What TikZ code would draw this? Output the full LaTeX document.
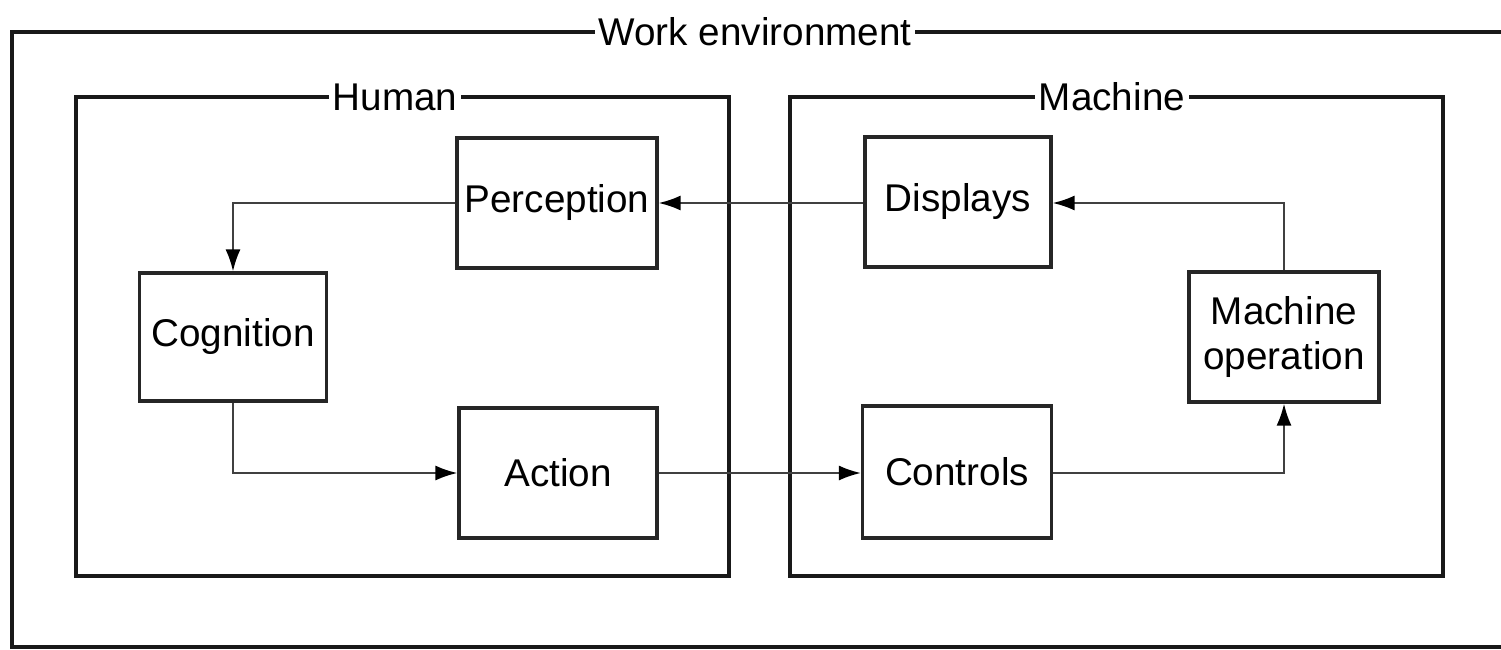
\documentclass[tikz,border=0pt]{standalone}
\usepackage{fontspec}
\setmainfont{Liberation Sans}
\usetikzlibrary{arrows.meta,positioning}

\begin{document}
\begin{tikzpicture}[x=0.1mm, y=-0.1mm, >={Latex[length=2.2mm,width=1.5mm,color=black]},
    block/.style={draw=black!85, line width=0.9pt, align=center, minimum width=1.95cm, minimum height=1.3cm, font=\fontsize{11}{13}\selectfont, inner sep=2pt},
    frame/.style={draw=black!90, line width=1.2pt},
    framelabel/.style={fill=white, inner xsep=1pt, inner ysep=1pt, font=\fontsize{11}{13}\selectfont},
    flow/.style={->, draw=black!75, line width=0.6pt}]
    \useasboundingbox (0,0) rectangle (1501,649);

    % frames
    \draw[frame] (12,32) rectangle (1530,647);
    \draw[frame] (76,97) rectangle (729,576);
    \draw[frame] (790,97) rectangle (1443,576);
    \node[framelabel] (work) at (755,32) {Work environment};
    \node[framelabel] (human) at (395,97) {Human};
    \node[framelabel] (machine) at (1112,97) {Machine};

    % human side
    \node[block, minimum width=2.0cm] (perception) at (557,203) {Perception};
    \node[block, minimum width=1.87cm, minimum height=1.28cm] (cognition) at (233,337) {Cognition};
    \node[block, minimum width=1.98cm] (action) at (558,473) {Action};

    % machine side
    \node[block, minimum width=1.86cm] (displays) at (958,202) {Displays};
    \node[block, minimum width=1.89cm, minimum height=1.32cm] (controls) at (957,472) {Controls};
    \node[block, minimum width=1.9cm] (machineop) at (1284,337) {Machine\\operation};

    \draw[flow] (displays.west |- perception.east) -- (perception.east);
    \draw[flow] (perception.west) -| (cognition.north);
    \draw[flow] (cognition.south) |- (action.west);
    \draw[flow] (action.east) -- (action.east -| controls.west);
    \draw[flow] (controls.east |- action.east) -| (machineop.south);
    \draw[flow] (machineop.north) |- (displays.east |- perception.east);
  \end{tikzpicture}
\end{document}
